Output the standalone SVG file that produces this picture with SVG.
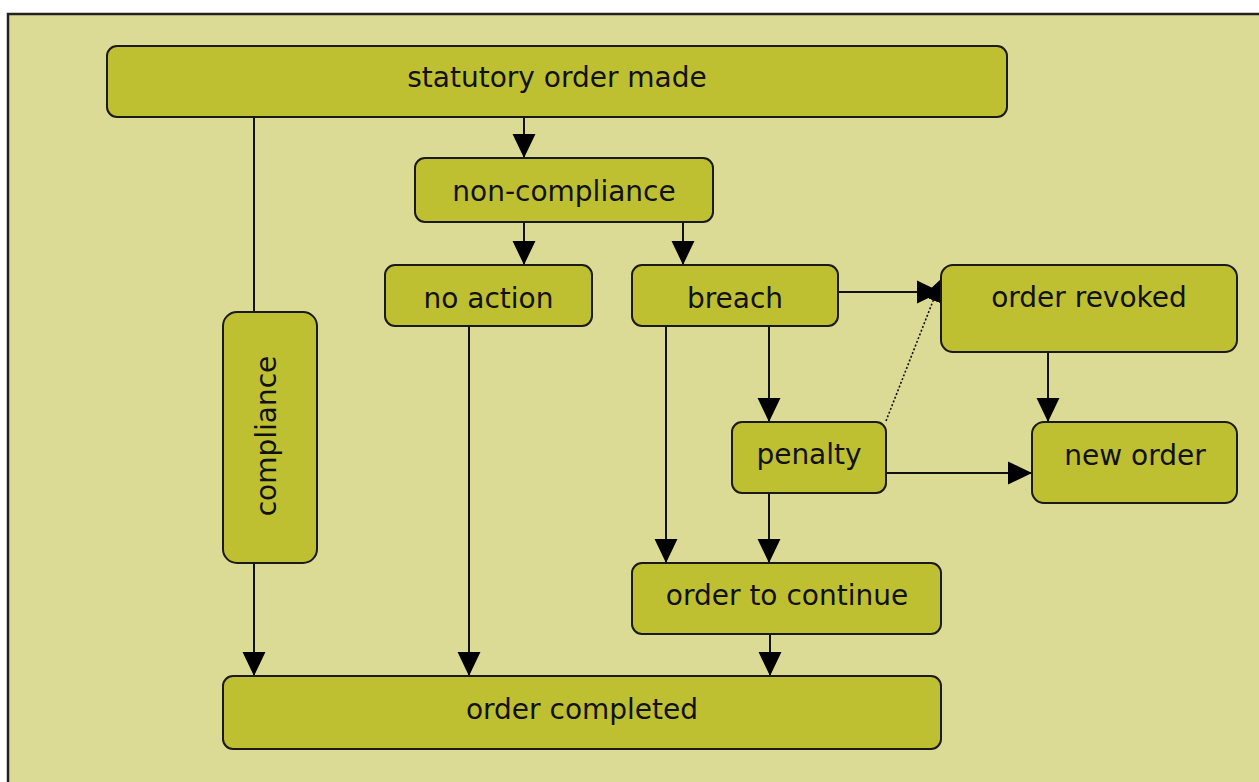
<svg xmlns="http://www.w3.org/2000/svg" width="1259" height="782" viewBox="0 0 1259 782">
<defs>
<style>
.node rect{fill:#bec032;stroke:#1a1a1a;stroke-width:2}
.node text{font-family:"DejaVu Sans","Verdana",sans-serif;font-size:28px;fill:#111;text-anchor:middle}
#connectors line{stroke:#111;stroke-width:2;fill:none}
#connectors .dot{stroke-width:1.6;stroke-dasharray:2 2}
</style>
<marker id="arr" markerUnits="userSpaceOnUse" markerWidth="24" markerHeight="24" viewBox="0 0 22 21" refX="22" refY="10.5" orient="auto">
<path d="M0,0 L22,10.5 L0,21 Z" fill="#000"/>
</marker>
</defs>
<rect x="0" y="0" width="1259" height="782" fill="#ffffff"/>
<rect x="8" y="14" width="1262" height="790" fill="#dcdb96" stroke="#222" stroke-width="2.5"/>

<g id="connectors">
<line x1="254" y1="117" x2="254" y2="312"/>
<line x1="254" y1="563" x2="254" y2="676" marker-end="url(#arr)"/>
<line x1="524" y1="117" x2="524" y2="158" marker-end="url(#arr)"/>
<line x1="524" y1="222" x2="524" y2="265" marker-end="url(#arr)"/>
<line x1="683" y1="222" x2="683" y2="265" marker-end="url(#arr)"/>
<line x1="469" y1="326" x2="469" y2="676" marker-end="url(#arr)"/>
<line x1="666" y1="326" x2="666" y2="563" marker-end="url(#arr)"/>
<line x1="769" y1="326" x2="769" y2="422" marker-end="url(#arr)"/>
<line x1="769" y1="493" x2="769" y2="563" marker-end="url(#arr)"/>
<line x1="770" y1="634" x2="770" y2="676" marker-end="url(#arr)"/>
<line x1="838" y1="292" x2="941" y2="292" marker-end="url(#arr)"/>
<line class="dot" x1="886" y1="421" x2="942" y2="278" marker-end="url(#arr)"/>
<line x1="1048" y1="352" x2="1048" y2="422" marker-end="url(#arr)"/>
<line x1="886" y1="473" x2="1032" y2="473" marker-end="url(#arr)"/>
</g>

<g id="n-statutory" class="node"><rect x="107" y="46" width="900" height="71" rx="10"/><text x="557" y="87">statutory order made</text></g>
<g id="n-noncompliance" class="node"><rect x="415" y="158" width="298" height="64" rx="10"/><text x="564" y="201">non-compliance</text></g>
<g id="n-noaction" class="node"><rect x="385" y="265" width="207" height="61" rx="10"/><text x="488.5" y="308">no action</text></g>
<g id="n-breach" class="node"><rect x="632" y="265" width="206" height="61" rx="10"/><text x="735" y="308">breach</text></g>
<g id="n-revoked" class="node"><rect x="941" y="265" width="296" height="87" rx="12"/><text x="1089" y="307">order revoked</text></g>
<g id="n-compliance" class="node"><rect x="223" y="312" width="94" height="251" rx="14"/><text transform="translate(276,436) rotate(-90)">compliance</text></g>
<g id="n-penalty" class="node"><rect x="732" y="422" width="154" height="71" rx="10"/><text x="809" y="464">penalty</text></g>
<g id="n-neworder" class="node"><rect x="1032" y="422" width="205" height="81" rx="12"/><text x="1135" y="465">new order</text></g>
<g id="n-continue" class="node"><rect x="632" y="563" width="309" height="71" rx="10"/><text x="787" y="605">order to continue</text></g>
<g id="n-completed" class="node"><rect x="223" y="676" width="718" height="73" rx="10"/><text x="582" y="719">order completed</text></g>
</svg>
